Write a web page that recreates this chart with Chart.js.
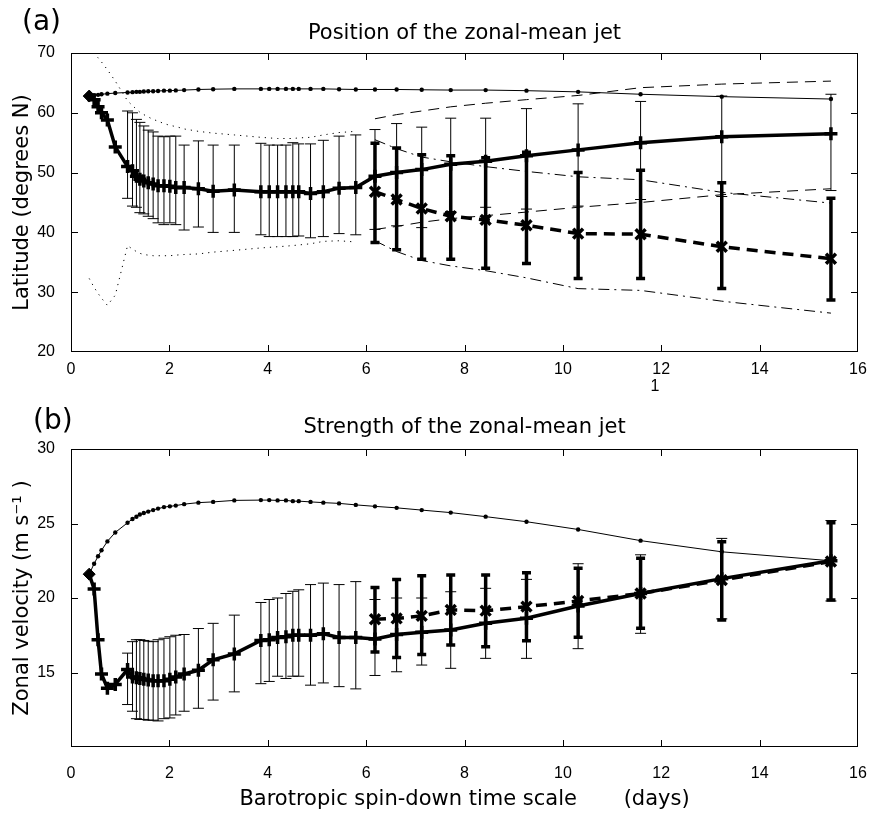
<!DOCTYPE html>
<html>
<head>
<meta charset="utf-8">
<script src="https://cdn.jsdelivr.net/npm/chart.js@4/dist/chart.umd.min.js"></script>
<style>
  html, body { margin: 0; padding: 0; background: #fff; }
  #wrap { position: relative; width: 873px; height: 815px; }
  .painel { position: absolute; left: 0; width: 873px; }
</style>
</head>
<body>
<div id="wrap">
  <div class="painel" style="top:0;height:400px"><canvas id="posicao"></canvas></div>
  <div class="painel" style="top:400px;height:415px"><canvas id="forca"></canvas></div>
</div>
<script>
// escala de tempo (dias)
const tempoCurto = [0.37, 0.47, 0.55, 0.62, 0.74, 0.90, 1.15, 1.25, 1.33, 1.40, 1.48, 1.57, 1.67, 1.77, 1.89, 2.01,
  2.13, 2.30, 2.59, 2.89, 3.32, 3.86, 4.03, 4.20, 4.37, 4.51, 4.63, 4.87, 5.13, 5.45, 5.79];
const tempoLongo = [6.18, 6.62, 7.13, 7.72, 8.43, 9.26, 10.31, 11.58, 13.23, 15.45];
const tempo = tempoCurto.concat(tempoLongo);

// (a) latitude
const latPontos = [62.8, 62.9, 63.0, 63.1, 63.2, 63.3, 63.4, 63.45, 63.5, 63.5, 63.55, 63.6, 63.6, 63.65, 63.7, 63.7,
  63.75, 63.8, 63.9, 63.95, 64.0, 64.0, 64.0, 64.0, 64.0, 64.0, 64.0, 64.0, 64.0, 63.95, 63.9,
  63.9, 63.9, 63.85, 63.8, 63.8, 63.7, 63.5, 63.1, 62.7, 62.3];
const latMedia = [62.8, 62.2, 61.0, 60.0, 58.8, 54.3, 51.0, 50.3, 49.4, 48.9, 48.6, 48.3, 48.1, 47.8, 47.8, 47.7,
  47.5, 47.5, 47.3, 46.9, 47.1, 46.8, 46.8, 46.8, 46.8, 46.8, 46.8, 46.5, 46.8, 47.4, 47.5,
  49.4, 50.0, 50.5, 51.4, 51.9, 52.8, 53.8, 55.0, 56.0, 56.5];
const latBarraMin = [null, null, null, null, null, null, 45.7, 44.4, 44.2, 43.3, 43.1, 42.7, 42.3, 41.6, 41.3, 41.6,
  41.3, 40.4, 40.9, 40.0, 40.0, 39.6, 39.3, 39.3, 39.3, 39.3, 39.4, 39.1, 39.3, 39.8, 39.6,
  40.5, 41.1, 40.8, 43.5, 44.2, 43.9, 44.4, 45.5, 46.0, 47.0];
const latBarraMax = [null, null, null, null, null, null, 60.3, 60.0, 58.9, 58.4, 57.8, 57.1, 56.8, 56.1, 56.0, 56.1,
  56.1, 54.6, 55.3, 54.6, 54.6, 54.9, 54.6, 54.6, 54.6, 55.0, 54.8, 54.8, 55.4, 56.1, 56.3,
  57.2, 58.2, 57.6, 59.1, 59.1, 60.7, 61.5, 61.9, 62.8, 63.1];
const latPontilhadoSup = [70.8, 70.0, 69.2, 68.5, 67.2, 65.3, 62.0, 61.2, 60.6, 60.1, 59.7, 59.3, 58.9, 58.6, 58.2, 57.9,
  57.7, 57.3, 56.9, 56.6, 56.3, 55.9, 55.8, 55.7, 55.7, 55.7, 55.8, 55.9, 56.3, 56.7, 56.9];
const latPontilhadoInf = [32.3, 30.8, 29.8, 29.0, 27.8, 29.5, 37.8, 37.2, 36.8, 36.5, 36.3, 36.2, 36.1, 36.1, 36.1, 36.1,
  36.2, 36.3, 36.4, 36.7, 37.0, 37.4, 37.5, 37.6, 37.7, 37.8, 37.9, 38.1, 38.5, 38.6, 38.4];
const latTracejadoSup = [59.0, 59.7, 60.3, 61.0, 61.6, 62.2, 62.9, 64.2, 64.8, 65.3];
const latTracejadoInf = [40.5, 41.0, 41.7, 42.3, 42.8, 43.4, 44.2, 45.0, 46.3, 47.3];
const latTracoPontoSup = [55.5, 54.0, 52.6, 51.8, 51.0, 50.2, 49.3, 48.8, 46.7, 44.9];
const latTracoPontoInf = [38.6, 36.8, 35.3, 34.4, 33.6, 32.4, 30.6, 30.3, 28.5, 26.5];
const latX = [46.8, 45.5, 44.0, 42.7, 42.1, 41.2, 39.8, 39.7, 37.6, 35.6];
const latXMin = [38.3, 37.1, 35.5, 35.5, 34.0, 34.8, 32.3, 32.3, 30.6, 28.7];
const latXMax = [54.9, 54.1, 53.0, 52.8, 52.5, 53.4, 50.0, 50.4, 48.3, 45.7];

// (b) velocidade zonal
const velPontos = [21.6, 22.3, 22.8, 23.2, 23.8, 24.4, 25.05, 25.3, 25.45, 25.6, 25.7, 25.8, 25.9, 26.0, 26.1, 26.15,
  26.2, 26.3, 26.4, 26.45, 26.55, 26.57, 26.57, 26.55, 26.55, 26.5, 26.5, 26.45, 26.4, 26.35, 26.25,
  26.15, 26.05, 25.9, 25.73, 25.46, 25.12, 24.6, 23.85, 23.1, 22.5];
const velMedia = [21.6, 20.6, 17.2, 14.9, 13.95, 14.2, 15.2, 14.7, 14.65, 14.6, 14.55, 14.5, 14.45, 14.45, 14.45, 14.55,
  14.7, 14.9, 15.15, 15.85, 16.25, 17.15, 17.2, 17.35, 17.4, 17.5, 17.5, 17.5, 17.6, 17.35, 17.35,
  17.25, 17.55, 17.7, 17.85, 18.3, 18.64, 19.46, 20.3, 21.3, 22.5];
const velBarraMin = [null, null, null, null, null, null, 12.85, 12.4, 11.9, 11.85, 11.85, 11.8, 11.8, 11.75, 11.9, 11.95,
  12.15, 12.4, 12.6, 13.15, 13.7, 14.25, 14.4, 14.75, 14.6, 14.75, 14.75, 14.15, 14.3, 14.05, 13.9,
  14.8, 15.05, 15.5, 15.28, 15.95, 15.95, 16.6, 17.63, 18.6, 19.8];
const velBarraMax = [null, null, null, null, null, null, 16.3, 17.07, 17.2, 17.2, 17.15, 17.1, 17.07, 17.2, 17.3, 17.4,
  17.5, 17.55, 17.95, 18.3, 18.85, 19.7, 19.9, 20.0, 20.3, 20.45, 20.55, 20.9, 21.0, 20.9, 21.1,
  19.9, 20.0, 20.0, 20.42, 20.65, 21.25, 22.3, 22.9, 24.0, 25.2];
const velX = [18.57, 18.63, 18.8, 19.2, 19.15, 19.42, 19.8, 20.3, 21.2, 22.45];
const velXMin = [16.37, 16.0, 16.2, 16.85, 16.73, 17.13, 17.36, 17.97, 18.52, 19.87];
const velXMax = [20.7, 21.25, 21.5, 21.54, 21.54, 21.7, 22.0, 22.66, 23.78, 25.05];

const fonteTexto = '"DejaVu Sans", sans-serif';
const fonteNumeros = '"Liberation Sans", Arial, sans-serif';

// barras de erro desenhadas pelas escalas do grafico
const barrasDeErro = {
  id: 'barrasDeErro',
  beforeDatasetsDraw(chart) {
    const { ctx, scales: { x, y } } = chart;
    chart.data.datasets.forEach((ds) => {
      if (!ds.barras) return;
      const { min, max, espessura, capa } = ds.barras;
      ctx.save();
      ctx.strokeStyle = '#000';
      ctx.lineWidth = espessura;
      ctx.setLineDash([]);
      ctx.beginPath();
      ds.data.forEach((p, k) => {
        if (min[k] == null) return;
        const px = x.getPixelForValue(p.x);
        const y0 = y.getPixelForValue(min[k]);
        const y1 = y.getPixelForValue(max[k]);
        ctx.moveTo(px, y0); ctx.lineTo(px, y1);
        ctx.moveTo(px - capa / 2, y0); ctx.lineTo(px + capa / 2, y0);
        ctx.moveTo(px - capa / 2, y1); ctx.lineTo(px + capa / 2, y1);
      });
      ctx.stroke();
      ctx.restore();
    });
  }
};

// caixa com marcas para dentro, rotulo e titulo do painel
const molduraPlugin = {
  id: 'moldura',
  afterDraw(chart, args, o) {
    const { ctx, chartArea: a, scales: { x, y } } = chart;
    ctx.save();
    ctx.strokeStyle = '#000';
    ctx.lineWidth = 1;
    ctx.setLineDash([]);
    ctx.strokeRect(Math.round(a.left) + 0.5, Math.round(a.top) + 0.5,
      Math.round(a.width) - 1, Math.round(a.height) - 1);
    ctx.beginPath();
    x.ticks.forEach((t) => {
      if (t.value <= x.min || t.value >= x.max) return;
      const px = Math.round(x.getPixelForValue(t.value)) + 0.5;
      ctx.moveTo(px, a.bottom); ctx.lineTo(px, a.bottom - 7);
      ctx.moveTo(px, a.top); ctx.lineTo(px, a.top + 7);
    });
    y.ticks.forEach((t) => {
      if (t.value <= y.min || t.value >= y.max) return;
      const py = Math.round(y.getPixelForValue(t.value)) + 0.5;
      ctx.moveTo(a.left, py); ctx.lineTo(a.left + 7, py);
      ctx.moveTo(a.right, py); ctx.lineTo(a.right - 7, py);
    });
    ctx.stroke();

    ctx.fillStyle = '#000';
    ctx.textBaseline = 'alphabetic';
    ctx.textAlign = 'left';
    ctx.font = '28px ' + fonteTexto;
    ctx.fillText(o.rotulo, o.rotuloX, o.rotuloY);
    ctx.textAlign = 'center';
    ctx.font = '21px ' + fonteTexto;
    ctx.fillText(o.titulo, (a.left + a.right) / 2, o.tituloY);
    (o.extras || []).forEach((e) => {
      ctx.font = '16px ' + fonteNumeros;
      ctx.fillText(e.texto, e.x, e.y);
    });
    ctx.restore();
  }
};

const serieMedia = (xs, ys, min, max) => ({
  data: xs.map((x, i) => ({ x, y: ys[i] })),
  showLine: true,
  borderColor: '#000',
  borderWidth: 3.5,
  pointStyle: ys.map((_, i) => (i === 0 ? 'rectRot' : 'cross')),
  pointRadius: ys.map((_, i) => (i === 0 ? 6 : 6.5)),
  pointBorderWidth: ys.map((_, i) => (i === 0 ? 1 : 3.5)),
  pointBorderColor: '#000',
  pointBackgroundColor: '#000',
  barras: { min, max, espessura: 1, capa: 11 }
});

const serieX = (xs, ys, min, max) => ({
  data: xs.map((x, i) => ({ x, y: ys[i] })),
  showLine: true,
  borderColor: '#000',
  borderWidth: 3.5,
  borderDash: [11, 7],
  pointStyle: 'crossRot',
  pointRadius: 7,
  pointBorderWidth: 3.5,
  pointBorderColor: '#000',
  barras: { min, max, espessura: 3.5, capa: 9 }
});

const linhaPontos = (xs, ys) => ({
  data: xs.map((x, i) => ({ x, y: ys[i] })),
  showLine: true,
  borderColor: '#000',
  borderWidth: 1,
  pointStyle: 'circle',
  pointRadius: 2.2,
  pointBorderWidth: 0,
  pointBackgroundColor: '#000'
});

const envelope = (xs, ys, dash) => ({
  data: xs.map((x, i) => ({ x, y: ys[i] })),
  showLine: true,
  borderColor: '#000',
  borderWidth: 1,
  borderDash: dash,
  pointRadius: 0
});

const configs = ({ datasets, yMin, yMax, yPasso, textoY, textoX, topo, alturaX, paddingX, moldura }) => ({
  type: 'scatter',
  data: { datasets },
  plugins: [barrasDeErro, molduraPlugin],
  options: {
    responsive: true,
    maintainAspectRatio: false,
    animation: false,
    devicePixelRatio: 1,
    layout: { padding: { left: 0, right: 15, top: topo, bottom: 0 } },
    scales: {
      x: {
        type: 'linear',
        min: 0,
        max: 16,
        grid: { display: false },
        border: { display: false },
        ticks: { stepSize: 2, padding: paddingX, color: '#000', font: { family: fonteNumeros, size: 16 }, maxRotation: 0 },
        title: {
          display: !!textoX,
          text: textoX,
          color: '#000',
          font: { family: fonteTexto, size: 21 },
          padding: { top: 0, bottom: 3 }
        },
        afterFit: (s) => {
          s.height = alturaX;
          s.paddingLeft = 0;
          s.paddingRight = 0;
        }
      },
      y: {
        min: yMin,
        max: yMax,
        grid: { display: false },
        border: { display: false },
        ticks: {
          stepSize: yPasso,
          padding: 8,
          color: '#000',
          font: { family: fonteNumeros, size: 16 },
          callback: (v) => (v === 10 ? '' : v)
        },
        title: {
          display: true,
          text: textoY,
          color: '#000',
          font: { family: fonteTexto, size: 21 },
          padding: { top: 10, bottom: 0 }
        },
        afterFit: (s) => { s.width = 71; }
      }
    },
    plugins: {
      legend: { display: false },
      tooltip: { enabled: false },
      moldura
    }
  }
});

const graficoPosicao = () => {
  const canvas = document.getElementById('posicao');
  const datasets = [
    serieMedia(tempo, latMedia, latBarraMin, latBarraMax),
    serieX(tempoLongo, latX, latXMin, latXMax),
    linhaPontos(tempo, latPontos),
    envelope(tempoCurto, latPontilhadoSup, [1.2, 5]),
    envelope(tempoCurto, latPontilhadoInf, [1.2, 5]),
    envelope(tempoLongo, latTracejadoSup, [11, 7]),
    envelope(tempoLongo, latTracejadoInf, [11, 7]),
    envelope(tempoLongo, latTracoPontoSup, [11, 5, 2, 5]),
    envelope(tempoLongo, latTracoPontoInf, [11, 5, 2, 5])
  ];
  return new Chart(canvas, configs({
    datasets,
    yMin: 20, yMax: 70, yPasso: 10,
    textoY: 'Latitude (degrees N)',
    textoX: '',
    topo: 53,
    alturaX: 48,
    paddingX: 0,
    moldura: {
      rotulo: '(a)', rotuloX: 22, rotuloY: 30,
      titulo: 'Position of the zonal-mean jet', tituloY: 39,
      extras: [{ texto: '1', x: 655, y: 391 }]
    }
  }));
};

const graficoForca = () => {
  const canvas = document.getElementById('forca');
  const datasets = [
    serieMedia(tempo, velMedia, velBarraMin, velBarraMax),
    serieX(tempoLongo, velX, velXMin, velXMax),
    linhaPontos(tempo, velPontos)
  ];
  return new Chart(canvas, configs({
    datasets,
    yMin: 10, yMax: 30, yPasso: 5,
    textoY: 'Zonal velocity (m s\u207B\u00B9 )',
    textoX: 'Barotropic spin-down time scale       (days)',
    topo: 49,
    alturaX: 68,
    paddingX: 9,
    moldura: {
      rotulo: '(b)', rotuloX: 33, rotuloY: 29,
      titulo: 'Strength of the zonal-mean jet', tituloY: 33
    }
  }));
};

window.onload = () => {
  graficoPosicao();
  graficoForca();
};
</script>
</body>
</html>
